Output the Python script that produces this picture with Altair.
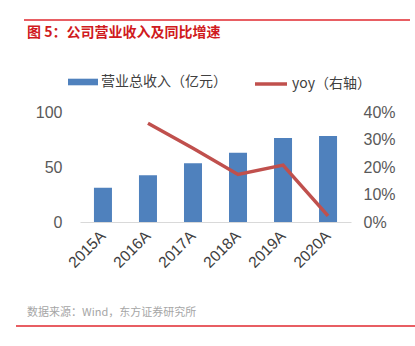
import altair as alt
import pandas as pd

years = ["2015A", "2016A", "2017A", "2018A", "2019A", "2020A"]
revenue = [31.2, 42.4, 53.3, 63.0, 76.4, 78.2]
yoy = [None, 0.359, 0.268, 0.173, 0.207, 0.022]

bar_name = "营业总收入（亿元）"
line_name = "yoy（右轴）"
title_text = "图 5：公司营业收入及同比增速"
source_text = "数据来源：Wind，东方证券研究所"

df = pd.DataFrame({"year": years, "revenue": revenue, "yoy": yoy,
                   "bs": bar_name, "ls": line_name})

FONT = "Liberation Sans, Noto Sans CJK SC"
CJK = "Noto Sans CJK SC"
LABEL = "#595959"

x = alt.X("year:N", sort=years, title=None,
          scale=alt.Scale(paddingInner=0.6, paddingOuter=0.31),
          axis=alt.Axis(labelAngle=-45, labelAlign="right", labelBaseline="middle",
                        labelPadding=11, labelFontSize=15.5, labelColor="#404040",
                        ticks=False, domainColor="#D9D9D9", grid=False, labelFont=FONT))

bars = alt.Chart(df).mark_bar(color="#4F81BD").encode(
    x=x,
    y=alt.Y("revenue:Q", title=None,
            scale=alt.Scale(domain=[0, 100], nice=False),
            axis=alt.Axis(values=[0, 50, 100], grid=False, domain=False, ticks=False,
                          labelFontSize=16, labelColor=LABEL, labelPadding=18, labelFont=FONT)),
    color=alt.Color("bs:N", scale=alt.Scale(domain=[bar_name], range=["#4F81BD"]),
                    legend=alt.Legend(title=None, orient="none", legendX=-12, legendY=-45,
                                      symbolType="M-1,-0.22H1V0.22H-1Z", symbolSize=900,
                                      symbolStrokeWidth=0, labelFontSize=14, labelColor="#404040",
                                      labelOffset=3, padding=0, labelFont=CJK)),
)

line = alt.Chart(df).transform_filter("datum.yoy != null").mark_line(
    color="#C0504D", strokeWidth=3.5).encode(
    x=alt.X("year:N", sort=years),
    y=alt.Y("yoy:Q", title=None,
            scale=alt.Scale(domain=[0, 0.4], nice=False),
            axis=alt.Axis(orient="right", values=[0, 0.1, 0.2, 0.3, 0.4], format=".0%",
                          grid=False, domain=False, ticks=False, labelFontSize=16,
                          labelColor=LABEL, labelPadding=12, labelFont=FONT)),
    stroke=alt.Stroke("ls:N", scale=alt.Scale(domain=[line_name], range=["#C0504D"]),
                      legend=alt.Legend(title=None, orient="none", legendX=173, legendY=-46,
                                        symbolType="stroke", symbolSize=1024,
                                        symbolStrokeWidth=3.5, labelFontSize=14,
                                        labelColor="#404040", labelOffset=3, padding=0,
                                        labelFont=CJK)),
)

deco = pd.DataFrame({"k": [0]})
top_rule = alt.Chart(deco).mark_rule(color="#E0292F", strokeWidth=1.5).encode(
    x=alt.value(-56), x2=alt.value(330), y=alt.value(-92))
bottom_rule = alt.Chart(deco).mark_rule(color="#E0292F", strokeWidth=1.5).encode(
    x=alt.value(-64), x2=alt.value(335), y=alt.value(214))
title = alt.Chart(deco).mark_text(align="left", baseline="middle", fontSize=14,
                                  fontWeight="bold", color="#D01A20", font=CJK).encode(
    x=alt.value(-53), y=alt.value(-79), text=alt.value(title_text))
source = alt.Chart(deco).mark_text(align="left", baseline="middle", fontSize=11,
                                   color="#A6A6A6", font=CJK).encode(
    x=alt.value(-53), y=alt.value(201), text=alt.value(source_text))

chart = alt.layer(bars, line, top_rule, bottom_rule, title, source).resolve_scale(
    y="independent", color="independent", stroke="independent"
).properties(
    width=271, height=110,
    autosize=alt.AutoSizeParams(type="none"),
    padding={"left": 80, "top": 112, "right": 64, "bottom": 124},
    background="white",
).configure_view(stroke=None)

chart.save("out.html", embed_options={"renderer": "svg", "actions": False})
